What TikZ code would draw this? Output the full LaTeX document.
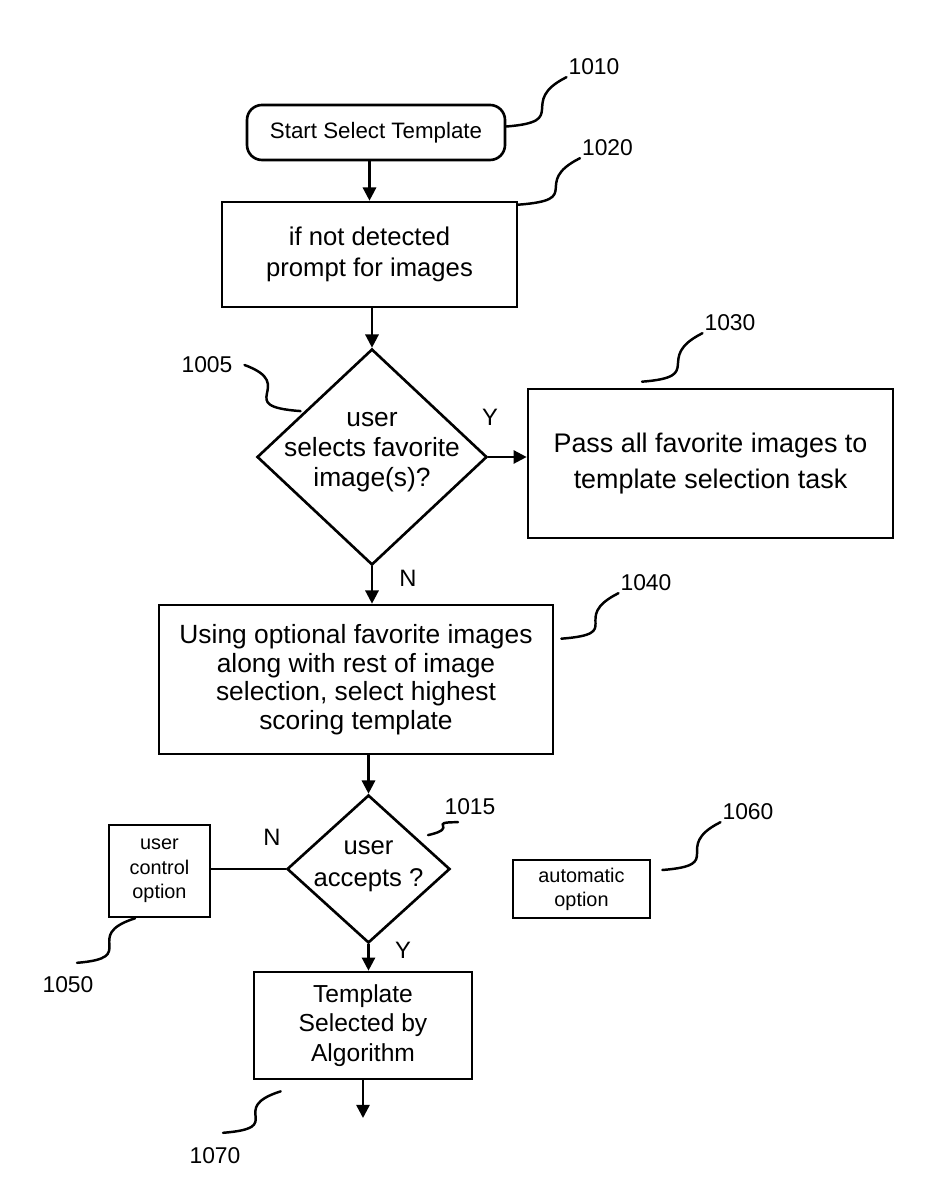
\documentclass[tikz,border=0pt]{standalone}
\usepackage{fontspec}
\setmainfont{Liberation Sans}
\usetikzlibrary{shapes.geometric,arrows.meta,calc}

\tikzset{
  >={Triangle[length=7.5pt,width=7.5pt]},
  box/.style={draw, line width=1.5pt, inner sep=0pt, align=center},
  decision/.style={draw, diamond, line width=1.5pt, inner sep=0pt},
  refno/.style={inner sep=1pt, font=\fontsize{13}{15}\selectfont},
  yn/.style={inner sep=0pt, font=\fontsize{13.5}{16}\selectfont},
  flow/.style={line width=1.4pt},
  leader/.style={line width=1.4pt, line cap=round}
}

\begin{document}
\begin{tikzpicture}
  \useasboundingbox (0,0) rectangle (18.6,23.8);
  \node[box, rounded corners=0.3cm, minimum width=5.16cm, minimum height=1.1cm, font=\fontsize{12.7}{15}\selectfont] (start) at (7.52,21.15) {Start Select Template};
  \node[box, minimum width=5.9cm, minimum height=2.1cm, font=\fontsize{14.6}{18}\selectfont] (prompt) at (7.39,18.71) {if not detected\\prompt for images};
  \node[decision, minimum width=4.6cm, minimum height=4.32cm] (fav) at (7.44,14.66) {};
  \node[align=center, inner sep=0pt, font=\fontsize{15}{17}\selectfont] (favtxt) at ([yshift=0.1cm]fav.center) {user\\selects favorite\\image(s)?};
  \node[box, minimum width=7.3cm, minimum height=2.98cm, font=\fontsize{15.3}{20}\selectfont] (pass) at (14.21,14.53) {Pass all favorite images to\\template selection task};
  \node[box, minimum width=7.88cm, minimum height=2.98cm, font=\fontsize{15}{16.2}\selectfont] (opt) at (7.12,10.21) {Using optional favorite images\\along with rest of image\\selection, select highest\\scoring template};
  \node[decision, minimum width=3.26cm, minimum height=2.96cm] (acc) at (7.37,6.42) {};
  \node[align=center, inner sep=0pt, font=\fontsize{14.6}{18}\selectfont] (acctxt) at ([yshift=0.05cm]acc.center) {user\\accepts ?};
  \node[box, minimum width=2.02cm, minimum height=1.84cm, font=\fontsize{11.3}{13.9}\selectfont] (user) at (3.19,6.38) {user\\control\\option};
  \node[box, minimum width=2.74cm, minimum height=1.16cm, font=\fontsize{11.3}{13.6}\selectfont] (auto) at (11.63,6.02) {automatic\\option};
  \node[box, minimum width=4.36cm, minimum height=2.14cm, font=\fontsize{14}{16.7}\selectfont] (tmpl) at (7.26,3.29) {Template\\Selected by\\Algorithm};
  \coordinate (tmplend) at (7.26,1.44);

  \draw[flow,->] (prompt.north |- start.south) -- (prompt.north); \draw[flow,->] (fav.north |- prompt.south) -- (fav.north);
  \draw[flow,->] (fav.east) -- (fav.east -| pass.west); \draw[flow,->] (fav.south) -- (fav.south |- opt.north);
  \draw[flow,->] (acc.north |- opt.south) -- (acc.north); \draw[flow] (acc.west) -- (acc.west -| user.east);
  \draw[flow,->] (acc.south) -- (acc.south |- tmpl.north); \draw[flow,->] (tmpl.south) -- (tmplend);
  \node[yn] (yfav) at (9.8,15.46) {Y}; \node[yn] (nfav) at (8.16,12.24) {N};
  \node[yn] (nacc) at (5.44,7.06) {N}; \node[yn] (yacc) at (8.06,4.8) {Y};

  \node[refno] (n1010) at (11.88,22.46) {1010}; \node[refno] (n1020) at (12.15,20.84) {1020};
  \node[refno] (n1005) at (4.14,16.5) {1005}; \node[refno] (n1030) at (14.6,17.34) {1030};
  \node[refno] (n1040) at (12.92,12.14) {1040}; \node[refno] (n1015) at (9.4,7.66) {1015};
  \node[refno] (n1060) at (14.96,7.56) {1060}; \node[refno] (n1050) at (1.36,4.1) {1050};
  \node[refno] (n1070) at (4.3,0.68) {1070};
  \coordinate (a1015) at ($(acc.north)!0.55!(acc.east)+(0.28,0)$);
  \coordinate (a1005) at ($(fav.north)!0.58!(fav.west)+(-0.08,0)$);

  \draw[leader] ([yshift=0.12cm]start.east) .. controls +(1.3,0.1) and +(-1.0,-0.5) .. (n1010.south west);
  \draw[leader] ([yshift=-0.08cm]prompt.north east) .. controls +(1.35,0.1) and +(-1.0,-0.5) .. (n1020.south west);
  \draw[leader] ([xshift=-1.37cm,yshift=0.12cm]pass.north) .. controls +(1.3,0.1) and +(-1.0,-0.5) .. (n1030.south west);
  \draw[leader] ([xshift=0.14cm,yshift=-0.7cm]opt.north east) .. controls +(1.3,0.1) and +(-1.0,-0.5) .. (n1040.south west);
  \draw[leader] (a1015) .. controls +(0.66,0.15) and +(-0.66,0) .. ([xshift=-0.24cm,yshift=-0.1cm]n1015.south);
  \draw[leader] ([xshift=0.22cm,yshift=0.38cm]auto.east) .. controls +(1.3,0.1) and +(-1.0,-0.5) .. (n1060.south west);
  \draw[leader] (a1005) .. controls +(-1.4,0.1) and +(1.1,-0.4) .. ([xshift=0.2cm]n1005.east);
  \draw[leader] ([xshift=-0.49cm]user.south) .. controls +(-1.1,-0.35) and +(1.28,0.1) .. ([xshift=0.18cm,yshift=0.24cm]n1050.north);
  \draw[leader] ([xshift=0.56cm,yshift=-0.22cm]tmpl.south west) .. controls +(-1.1,-0.35) and +(1.3,0.1) .. ([xshift=0.16cm,yshift=0.26cm]n1070.north);
\end{tikzpicture}
\end{document}
